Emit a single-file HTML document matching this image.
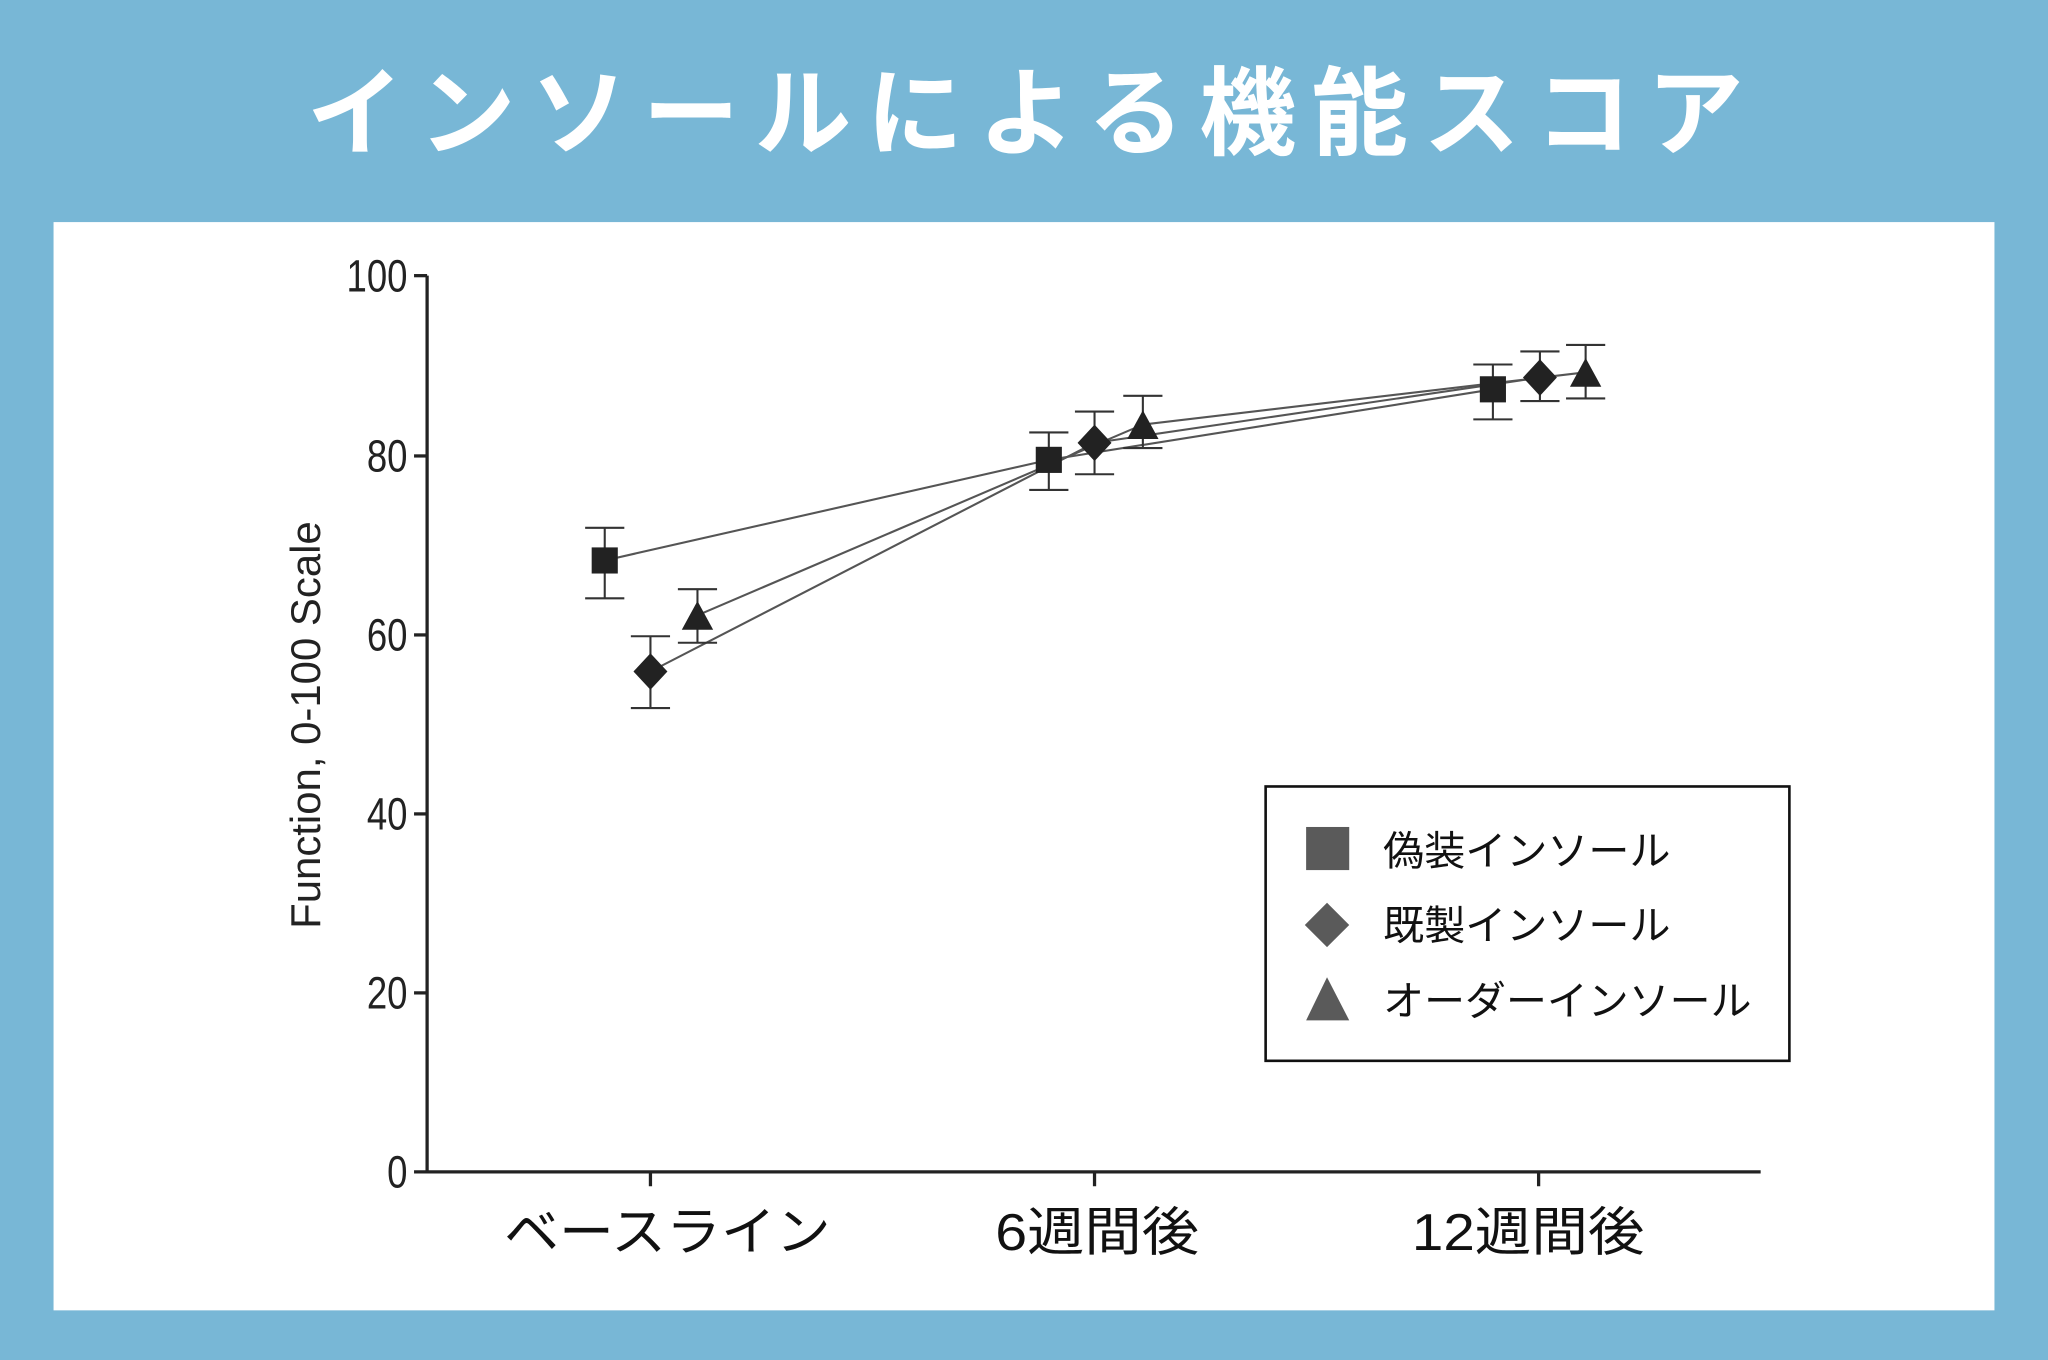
<!DOCTYPE html>
<html><head><meta charset="utf-8"><style>
html,body{margin:0;padding:0;background:#78b7d6;}
svg{display:block}
</style></head><body>
<svg width="2048" height="1360" viewBox="0 0 1568 1041" preserveAspectRatio="none" xmlns="http://www.w3.org/2000/svg">
<rect x="0" y="0" width="1568" height="1041" fill="#78b7d6"/>
<text x="785" y="113" text-anchor="middle" fill="#fff" font-family="'Noto Sans CJK JP',sans-serif" font-weight="bold" font-size="74" textLength="1100" lengthAdjust="spacing">インソールによる機能スコア</text>
<rect x="41" y="170" width="1486" height="833" fill="#fff"/>
<g stroke="#222" stroke-width="2.5" fill="none">
<line x1="327" y1="211" x2="327" y2="898"/>
<line x1="317" y1="897" x2="1348" y2="897"/>
<line x1="317" y1="211" x2="327" y2="211"/>
<line x1="317" y1="349" x2="327" y2="349"/>
<line x1="317" y1="486" x2="327" y2="486"/>
<line x1="317" y1="623" x2="327" y2="623"/>
<line x1="317" y1="760" x2="327" y2="760"/>
<line x1="498" y1="897" x2="498" y2="908"/>
<line x1="838" y1="897" x2="838" y2="908"/>
<line x1="1178" y1="897" x2="1178" y2="908"/>
</g>
<g font-family="'Liberation Sans',sans-serif" font-size="35" fill="#222" text-anchor="end">
<text x="312" y="223" transform="translate(312 0) scale(0.8 1) translate(-312 0)">100</text>
<text x="312" y="361" transform="translate(312 0) scale(0.8 1) translate(-312 0)">80</text>
<text x="312" y="498" transform="translate(312 0) scale(0.8 1) translate(-312 0)">60</text>
<text x="312" y="635" transform="translate(312 0) scale(0.8 1) translate(-312 0)">40</text>
<text x="312" y="772" transform="translate(312 0) scale(0.8 1) translate(-312 0)">20</text>
<text x="312" y="909" transform="translate(312 0) scale(0.8 1) translate(-312 0)">0</text>
</g>
<text transform="translate(245 555) rotate(-90)" text-anchor="middle" font-family="'Liberation Sans',sans-serif" font-size="32" fill="#222" textLength="312" lengthAdjust="spacingAndGlyphs">Function, 0-100 Scale</text>
<g font-family="'Liberation Sans','Noto Sans CJK JP',sans-serif" font-size="40" fill="#111" text-anchor="middle">
<text x="511" y="957" textLength="250" lengthAdjust="spacingAndGlyphs">ベースライン</text>
<text x="840" y="957" textLength="156" lengthAdjust="spacingAndGlyphs">6週間後</text>
<text x="1170" y="957" textLength="178" lengthAdjust="spacingAndGlyphs">12週間後</text>
</g>
<g stroke="#555" stroke-width="1.6" fill="none">
<polyline points="463,429 803,352 1143,298"/>
<polyline points="498,514 838,339 1179,289"/>
<polyline points="534,471 875,325 1214,285"/>
</g>
<g stroke="#333" stroke-width="1.6">
<line x1="463" y1="404" x2="463" y2="458"/><line x1="448" y1="404" x2="478" y2="404"/><line x1="448" y1="458" x2="478" y2="458"/>
<line x1="498" y1="487" x2="498" y2="542"/><line x1="483" y1="487" x2="513" y2="487"/><line x1="483" y1="542" x2="513" y2="542"/>
<line x1="534" y1="451" x2="534" y2="492"/><line x1="519" y1="451" x2="549" y2="451"/><line x1="519" y1="492" x2="549" y2="492"/>
<line x1="803" y1="331" x2="803" y2="375"/><line x1="788" y1="331" x2="818" y2="331"/><line x1="788" y1="375" x2="818" y2="375"/>
<line x1="838" y1="315" x2="838" y2="363"/><line x1="823" y1="315" x2="853" y2="315"/><line x1="823" y1="363" x2="853" y2="363"/>
<line x1="875" y1="303" x2="875" y2="343"/><line x1="860" y1="303" x2="890" y2="303"/><line x1="860" y1="343" x2="890" y2="343"/>
<line x1="1143" y1="279" x2="1143" y2="321"/><line x1="1128" y1="279" x2="1158" y2="279"/><line x1="1128" y1="321" x2="1158" y2="321"/>
<line x1="1179" y1="269" x2="1179" y2="307"/><line x1="1164" y1="269" x2="1194" y2="269"/><line x1="1164" y1="307" x2="1194" y2="307"/>
<line x1="1214" y1="264" x2="1214" y2="305"/><line x1="1199" y1="264" x2="1229" y2="264"/><line x1="1199" y1="305" x2="1229" y2="305"/>
</g>
<g fill="#222">
<rect x="453" y="419" width="20" height="20"/>
<rect x="793" y="342" width="20" height="20"/>
<rect x="1133" y="288" width="20" height="20"/>
<polygon points="498,500 511,514 498,528 485,514"/>
<polygon points="838,325 851,339 838,353 825,339"/>
<polygon points="1179,275 1192,289 1179,303 1166,289"/>
<polygon points="534,460 546,482 522,482"/>
<polygon points="875,314 887,336 863,336"/>
<polygon points="1214,274 1226,296 1202,296"/>
</g>
<rect x="969" y="602" width="401" height="210" fill="none" stroke="#111" stroke-width="2"/>
<g fill="#5a5a5a">
<rect x="1000" y="633" width="33" height="33"/>
<polygon points="1016,691 1033,708 1016,725 999,708"/>
<polygon points="1016,748 1033,781 1000,781"/>
</g>
<g font-family="'Liberation Sans','Noto Sans CJK JP',sans-serif" font-size="31" fill="#111">
<text x="1059" y="662" textLength="220" lengthAdjust="spacingAndGlyphs">偽装インソール</text>
<text x="1059" y="719" textLength="220" lengthAdjust="spacingAndGlyphs">既製インソール</text>
<text x="1059" y="777" textLength="282" lengthAdjust="spacingAndGlyphs">オーダーインソール</text>
</g>
</svg>
</body></html>
